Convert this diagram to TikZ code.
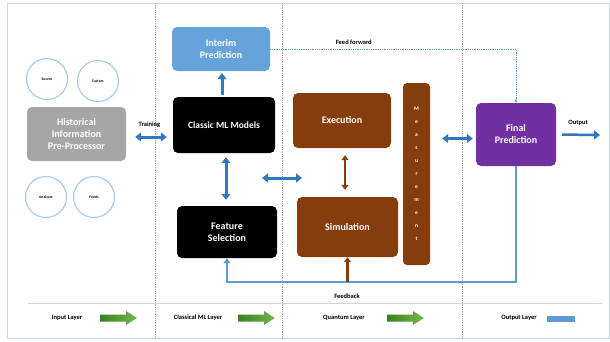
\documentclass[tikz,border=0pt]{standalone}
\usepackage{fontspec}
\setmainfont{Carlito}
\usetikzlibrary{arrows.meta}
\definecolor{frame blue}{rgb}{0.78, 0.84, 0.91}
\definecolor{ring blue}{rgb}{0.66, 0.80, 0.93}
\definecolor{arrow blue}{rgb}{0.20, 0.47, 0.74}
\definecolor{line blue}{rgb}{0.36, 0.61, 0.84}
\definecolor{interim blue}{rgb}{0.40, 0.64, 0.86}
\definecolor{history gray}{rgb}{0.65, 0.65, 0.65}
\definecolor{quantum brown}{rgb}{0.52, 0.24, 0.05}
\definecolor{final purple}{rgb}{0.44, 0.19, 0.63}
\definecolor{legend green dark}{rgb}{0.22, 0.50, 0.13}
\definecolor{legend green light}{rgb}{0.46, 0.72, 0.30}
\tikzset{
	box/.style={rounded corners=5pt, inner sep=1pt, align=center, text=white,
		font=\bfseries\fontsize{10}{12}\selectfont},
	ring/.style={circle, draw=ring blue, line width=1.2pt, minimum size=41pt, inner sep=0pt,
		font=\bfseries\fontsize{3.8}{4}\selectfont},
	small label/.style={font=\bfseries\fontsize{6.5}{7}\selectfont},
	blue double/.style={arrow blue, line width=3pt, {Triangle[length=6pt,width=9pt]}-{Triangle[length=6pt,width=9pt]}},
	blue single/.style={arrow blue, line width=3pt, -{Triangle[length=6pt,width=9pt]}},
	brown double/.style={quantum brown, line width=2pt, {Triangle[length=5pt,width=7pt]}-{Triangle[length=5pt,width=7pt]}},
	brown single/.style={quantum brown, line width=2.5pt, -{Triangle[length=5pt,width=7pt]}},
	separator/.style={gray!70, densely dotted, line width=0.8pt},
	legend arrow/.style={left color=legend green dark, right color=legend green light, draw=none}
}
\begin{document}
\begin{tikzpicture}[x=1pt, y=-1pt]
	\useasboundingbox (0,0) rectangle (610,341);
	% frame and layer separators
	\draw[frame blue, line width=1pt] (7,3) rectangle (609,338);
	\draw[separator] (155,3) -- (155,338) (282,3) -- (282,338) (462,3) -- (462,338);
	\draw[frame blue, line width=0.8pt] (28,303) -- (602,303);
	% part for input layer
	\node[ring] (source) at (47,79) {Source};
	\node[ring] (factors) at (98,81) {Factors};
	\node[ring] (analyzer) at (46,197) {Analyzer};
	\node[ring] (feeds) at (94,197) {Feeds};
	\node[box, fill=history gray, minimum width=99pt, minimum height=54pt] (hist) at (76.5,134)
		{Historical\\Information\\Pre-Processor};
	% part for classical ML layer
	\node[box, fill=interim blue, minimum width=98pt, minimum height=44pt] (interim) at (221,49)
		{Interim\\Prediction};
	\node[box, fill=black, minimum width=102pt, minimum height=56pt,
		font=\bfseries\fontsize{9.5}{11}\selectfont] (classic) at (224,125) {Classic ML Models};
	\node[box, fill=black, minimum width=100pt, minimum height=52pt] (feature) at (227,232)
		{Feature\\Selection};
	% part for quantum layer
	\node[box, fill=quantum brown, minimum width=98pt, minimum height=55pt] (execution) at (342,120.5)
		{Execution};
	\node[box, fill=quantum brown, minimum width=101pt, minimum height=60pt] (simulation) at (347.5,227)
		{Simulation};
	\node[box, fill=quantum brown, minimum width=27pt, minimum height=182pt, rounded corners=4pt,
		font=\bfseries\fontsize{5.5}{13}\selectfont] (measure) at (416.5,174)
		{M\\e\\a\\s\\u\\r\\e\\m\\e\\n\\t};
	% part for output layer
	\node[box, fill=final purple, minimum width=80pt, minimum height=63pt] (final) at (516,134.5)
		{Final\\Prediction};
	\coordinate (out) at (600,135);
	\coordinate (fbline) at (0,282);
	\coordinate (linkleft) at (262,178);
	\coordinate (linkright) at (302,178);
	% connectors
	\draw[blue double, shorten <=9pt, shorten >=6pt] ([yshift=-3pt]hist.east) -- ([yshift=-3pt]hist.east -| classic.west)
		node[midway, above=5pt, text=black, small label] {Training};
	\draw[blue single, shorten <=2pt, shorten >=2pt] ([xshift=-2pt]classic.north) -- ([xshift=-2pt]classic.north |- interim.south);
	\draw[blue double, shorten <=4pt, shorten >=6pt] ([xshift=2pt]classic.south) -- ([xshift=2pt]classic.south |- feature.north);
	\draw[blue double] (linkleft) -- (linkright);
	\draw[brown double, shorten <=7pt, shorten >=7pt] ([xshift=3pt]execution.south) -- ([xshift=3pt]execution.south |- simulation.north);
	\draw[blue double, shorten <=12pt, shorten >=3pt] ([yshift=-4pt]final.west -| measure.east) -- ([yshift=-4pt]final.west);
	\draw[blue single, line width=2.5pt, shorten <=6pt] (final.east) -- (out)
		node[midway, above=5pt, text=black, small label] {Output};
	\draw[line blue, densely dotted, line width=0.8pt, -{Triangle[length=3pt,width=3pt]}] (interim.east) -| (final.north)
		node[pos=0.17, above=1pt, text=black, small label] {Feed forward};
	\draw[line blue, line width=2.5pt, -{Triangle[length=5pt,width=7pt]}] (final.south) -- (final.south |- fbline) -| (feature.south);
	\draw[brown single] (simulation.south |- fbline) -- (simulation.south);
	\node[small label] (feedback) at (347,296) {Feedback};
	% legend
	\node[small label] (inputlayer) at (67,318) {Input Layer};
	\node[small label] (classiclayer) at (198,318) {Classical ML Layer};
	\node[small label] (quantumlayer) at (344,318) {Quantum Layer};
	\node[small label] (outputlayer) at (519,318) {Output Layer};
	\shade[legend arrow] (100,314.5) -- ++(26,0) -- ++(0,-3.5) -- ++(11,7) -- ++(-11,7) -- ++(0,-3.5) -- ++(-26,0) -- cycle;
	\shade[legend arrow] (238,314.5) -- ++(26,0) -- ++(0,-3.5) -- ++(11,7) -- ++(-11,7) -- ++(0,-3.5) -- ++(-26,0) -- cycle;
	\shade[legend arrow] (387,314.5) -- ++(26,0) -- ++(0,-3.5) -- ++(11,7) -- ++(-11,7) -- ++(0,-3.5) -- ++(-26,0) -- cycle;
	\fill[line blue] (547,316) rectangle (575,322);
\end{tikzpicture}
\end{document}
